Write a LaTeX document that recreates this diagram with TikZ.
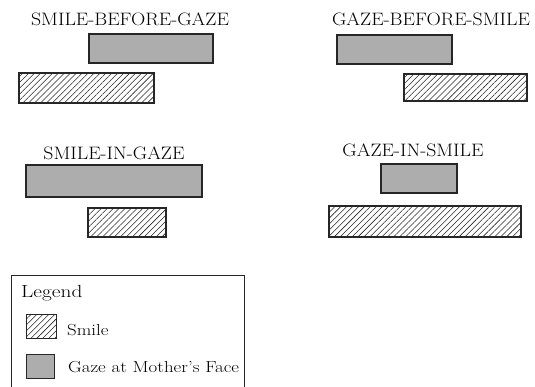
\documentclass[tikz,border=0pt]{standalone}
\usetikzlibrary{patterns.meta}
\newcommand{\widetext}[1]{\scalebox{1.1}[1]{#1}}
\newcommand{\widerlabel}[1]{\scalebox{1.18}[1]{#1}}
\begin{document}
\begin{tikzpicture}[x=1pt,y=-1pt,
  bar/.style={draw=black!85, line width=1.1pt, inner sep=0pt, outer sep=0pt, anchor=north west},
  gazebar/.style={bar, fill=black!32},
  smilebar/.style={bar, fill=white, pattern={Lines[angle=45,distance=4.2pt,line width=0.55pt]}, pattern color=black!85},
  title/.style={font=\fontsize{18}{20}\selectfont, inner sep=0pt},
  label/.style={font=\fontsize{16}{18}\selectfont, inner sep=0pt, anchor=west}]
\useasboundingbox (0,0) rectangle (535,387);
\clip (0,0) rectangle (535,387);

% smile before gaze
\node[title] (t1) at (130,19) {\widetext{SMILE-BEFORE-GAZE}};
\node[gazebar, minimum width=124pt, minimum height=29pt] (g1) at (89,34) {};
\node[smilebar, minimum width=135pt, minimum height=30pt] (s1) at (19,73) {};

% gaze before smile
\node[title] (t2) at (431,19) {\widetext{GAZE-BEFORE-SMILE}};
\node[gazebar, minimum width=115pt, minimum height=29pt] (g2) at (337,35) {};
\node[smilebar, minimum width=123pt, minimum height=27pt] (s2) at (404,74) {};

% smile in gaze
\node[title] (t3) at (114,153) {\widetext{SMILE-IN-GAZE}};
\node[gazebar, minimum width=176pt, minimum height=32pt] (g3) at (26,165) {};
\node[smilebar, minimum width=78pt, minimum height=29pt] (s3) at (88,208) {};

% gaze in smile
\node[title] (t4) at (413,150) {\widetext{GAZE-IN-SMILE}};
\node[gazebar, minimum width=76pt, minimum height=29pt] (g4) at (381,164) {};
\node[smilebar, minimum width=192pt, minimum height=31pt] (s4) at (329,206) {};

% legend
\draw[draw=black!85, line width=0.9pt] (11,275) rectangle (244,400);
\node[font=\fontsize{17.5}{19}\selectfont, inner sep=0pt, anchor=west] (lt) at (21,293) {\scalebox{1.22}[1]{Legend}};
\node[smilebar, minimum width=30pt, minimum height=24pt, line width=0.9pt] (ls) at (26,314) {};
\node[label] (lsl) at (67,330) {\widerlabel{Smile}};
\node[gazebar, minimum width=28pt, minimum height=24pt, line width=0.9pt] (lg) at (26,354) {};
\node[label] (lgl) at (68,367) {\widerlabel{Gaze at Mother's Face}};
\end{tikzpicture}
\end{document}
